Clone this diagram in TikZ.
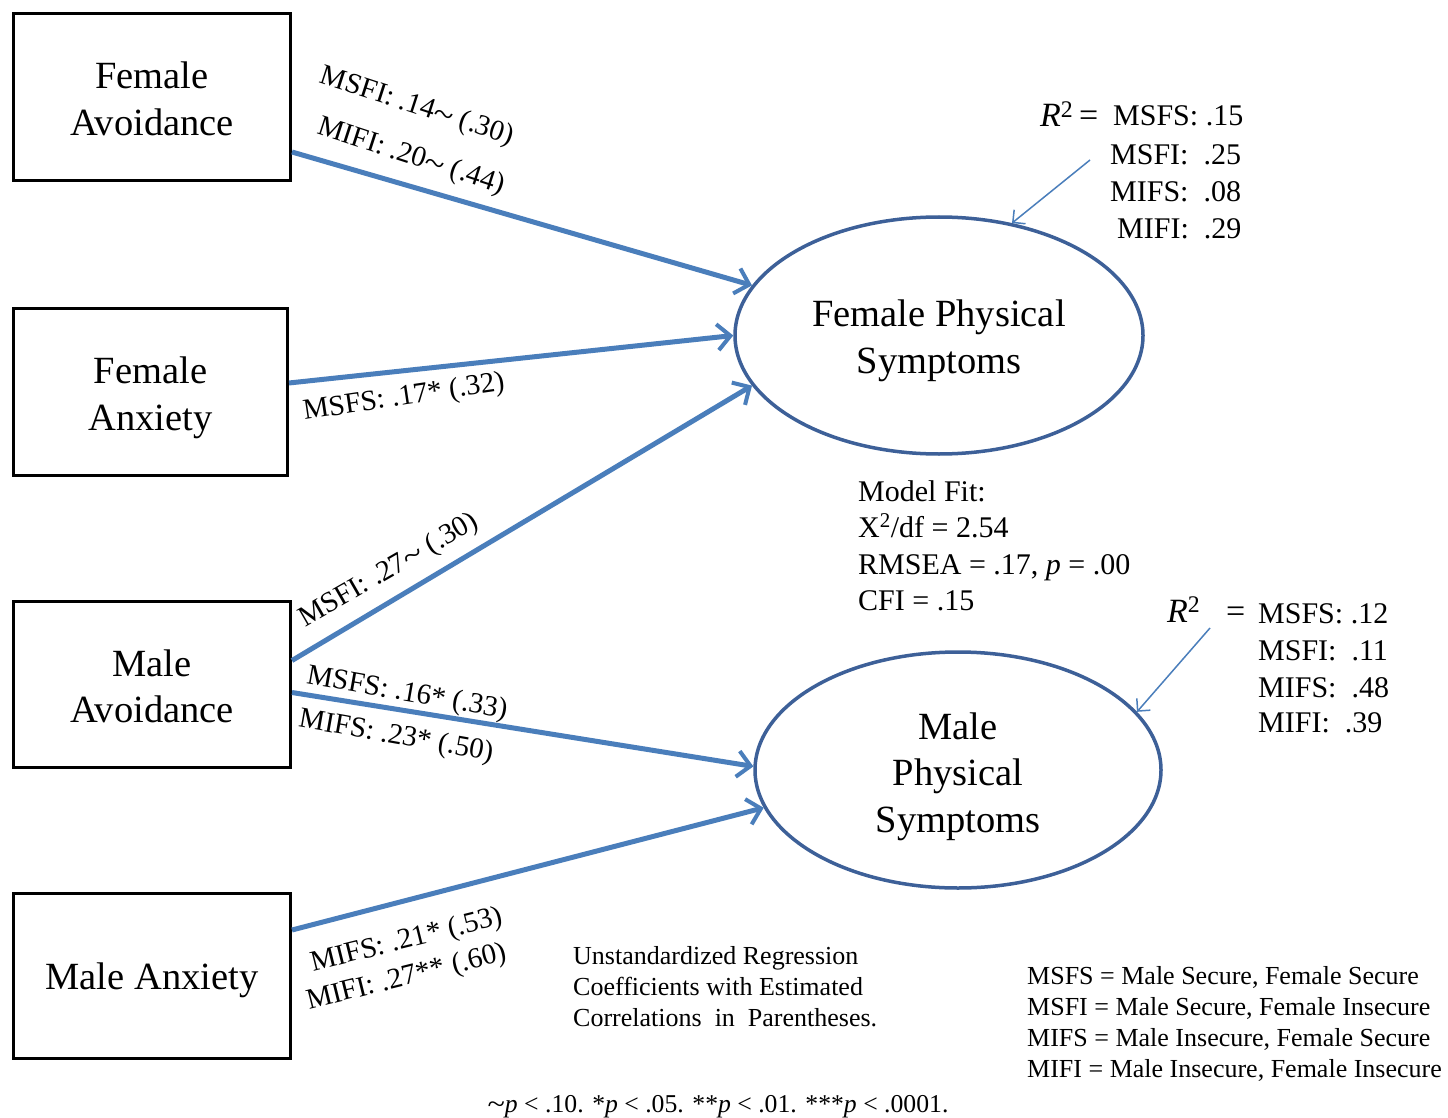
\documentclass[tikz,border=0pt]{standalone}
\usepackage{fontspec}
\usepackage{graphicx}
\setmainfont{Liberation Serif}
\usetikzlibrary{arrows.meta,shapes.geometric,calc}
\definecolor{arrowblue}{HTML}{4A7EBB}
\definecolor{ellblue}{HTML}{3D6098}
\newcommand\tld{\raisebox{-0.07em}{\scalebox{1.25}[1.1]{\textasciitilde}}}
\begin{document}
\begin{tikzpicture}[x=1pt,y=-1pt,
  box/.style={draw=black,line width=3pt,inner sep=0pt},
  latent/.style={ellipse,draw=ellblue,line width=3.5pt,inner sep=0pt},
  bigtxt/.style={inner sep=0pt,align=center,font=\fontsize{38.5}{46.5}\selectfont},
  regarrow/.style={draw=arrowblue,line width=5pt,-{Straight Barb[length=13pt,width=26pt,line width=4pt]}},
  rsqarrow/.style={draw=arrowblue,line width=1.5pt,-{Straight Barb[length=9pt,width=18pt,line width=1.5pt]}},
  coef/.style={inner sep=0pt,font=\fontsize{29}{34}\selectfont},
  rtxt/.style={inner sep=0pt,anchor=base west,font=\fontsize{30}{35}\selectfont},
  small/.style={inner sep=0pt,anchor=base west,font=\fontsize{26}{31}\selectfont}
]
\useasboundingbox (0,0) rectangle (1448,1118);
\fill[white] (0,0) rectangle (1448,1118);

% observed variables
\node[box,minimum width=277pt,minimum height=167pt] (fa) at (152,97) {};
\node[box,minimum width=274pt,minimum height=167pt] (fx) at (150.5,392) {};
\node[box,minimum width=277pt,minimum height=166pt] (ma) at (152,684.5) {};
\node[box,minimum width=277pt,minimum height=165pt] (mx) at (152,976) {};
\node[bigtxt] (fat) at (152,99) {Female\\Avoidance};
\node[bigtxt] (fxt) at (150.5,398) {Female\\Anxiety};
\node[bigtxt] (mat) at (152,686.5) {Male\\Avoidance};
\node[bigtxt] (mxt) at (152,980) {Male Anxiety};

% latent variables
\node[latent,minimum width=408pt,minimum height=237pt] (fps) at (939,335.5) {};
\node[latent,minimum width=406pt,minimum height=236pt] (mps) at (958,770) {};
\node[bigtxt] (fpst) at (939,341) {Female Physical\\Symptoms};
\node[bigtxt] (mpst) at (958,776.5) {Male\\Physical\\Symptoms};

% regression paths
\draw[regarrow] ($(fa.east)+(0,55)$) -- (fps.165.5);
\draw[regarrow] ($(fx.east)+(0,-9)$) -- (fps.180.7);
\draw[regarrow] ($(ma.east)+(0,-24)$) -- (fps.195.7);
\draw[regarrow] ($(ma.east)+(0,8)$) -- (mps.179.4);
\draw[regarrow] ($(mx.east)+(0,-46)$) -- (mps.191);

% path coefficients
\node[coef,rotate=-18] (c1) at (417,107) {MSFI: .14\tld{} (.30)};
\node[coef,rotate=-18] (c2) at (411,157) {MIFI: .20\tld{} (.44)};
\node[coef,rotate=8.5] (c3) at (404,398) {MSFS: .17* (.32)};
\node[coef,rotate=30] (c4) at (389,571) {MSFI: .27\tld{} (.30)};
\node[coef,rotate=-10] (c5) at (407,694) {MSFS: .16* (.33)};
\node[coef,rotate=-10] (c6) at (396,737) {MIFS: .23* (.50)};
\node[coef,rotate=14] (c7) at (407,941) {MIFS: .21* (.53)};
\node[coef,rotate=14] (c8) at (407,978) {MIFI: .27** (.60)};

% R-squared, female
\node[inner sep=0pt,anchor=base west,font=\fontsize{34}{40}\selectfont] (fr) at (1040,127) {\textit{R}\textsuperscript{2}\,=};
\node[rtxt] (f1) at (1113,126) {MSFS: .15};
\node[rtxt] (f2) at (1110,165) {MSFI:\ \ .25};
\node[rtxt] (f3) at (1110,202) {MIFS:\ \ .08};
\node[rtxt] (f4) at (1117,238) {MIFI:\ \ .29};
\coordinate (fra) at (1090,160);
\draw[rsqarrow] (fra) -- (fps.57.8);

% R-squared, male
\node[inner sep=0pt,anchor=base west,font=\fontsize{34}{40}\selectfont] (mr) at (1167,622) {\textit{R}\textsuperscript{2}};
\node[inner sep=0pt,anchor=base west,font=\fontsize{34}{40}\selectfont] (meq) at (1226,622) {=};
\node[rtxt] (m1) at (1258,623) {MSFS: .12};
\node[rtxt] (m2) at (1258,660) {MSFI:\ \ .11};
\node[rtxt] (m3) at (1258,697) {MIFS:\ \ .48};
\node[rtxt] (m4) at (1258,732) {MIFI:\ \ .39};
\coordinate (mra) at (1210,628);
\draw[rsqarrow] (mra) -- (mps.18.9);

% model fit
\node[rtxt] (mf1) at (858,501) {Model Fit:};
\node[rtxt] (mf2) at (858,537) {X\textsuperscript{2}/df = 2.54};
\node[rtxt] (mf3) at (858,574) {RMSEA = .17, \textit{p} = .00};
\node[rtxt] (mf4) at (858,610) {CFI = .15};

% note
\node[small] (n1) at (573,964) {Unstandardized Regression};
\node[small] (n2) at (573,995) {Coefficients with Estimated};
\node[small] (n3) at (573,1026) {Correlations\ \ in\ \ Parentheses.};

% legend
\node[small] (l1) at (1027,984) {MSFS = Male Secure, Female Secure};
\node[small] (l2) at (1027,1015) {MSFI = Male Secure, Female Insecure};
\node[small] (l3) at (1027,1046) {MIFS = Male Insecure, Female Secure};
\node[small] (l4) at (1027,1077) {MIFI = Male Insecure, Female Insecure};

% significance
\node[inner sep=0pt,anchor=base,font=\fontsize{25.7}{31}\selectfont] (sig) at (718,1112) {\tld\textit{p} < .10. *\textit{p} < .05. **\textit{p} < .01. ***\textit{p} < .0001.};
\end{tikzpicture}
\end{document}
